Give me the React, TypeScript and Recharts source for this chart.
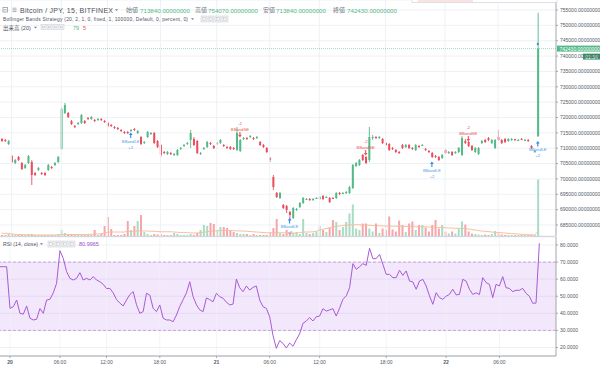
import React from 'react';
import {
  ComposedChart, Bar, Line, XAxis, YAxis, CartesianGrid,
  ReferenceLine, ReferenceArea, ReferenceDot,
} from 'recharts';

// ---------------- data ----------------
const SLOT_COUNT = 168; // 15-minute bar slots on the time axis (last few are empty)

const OPEN = [
  713000, 712670, 711370, 707460, 705180, 707140, 705180, 703560, 705180, 705510,
  701930, 702900, 701930, 701930, 702900, 703880, 704530, 705510, 709740, 721460,
  721460, 718860, 717230, 717880, 718210, 718860, 719840, 719510, 719180, 719180,
  719510, 718860, 718210, 717560, 716900, 716580, 715930, 715280, 715280, 715600,
  716250, 714950, 713650, 711700, 713650, 714630, 714950, 712350, 711040, 708770,
  708110, 708440, 707790, 707790, 709740, 710720, 711370, 712670, 713000, 712350,
  708110, 709740, 710390, 711700, 710720, 711370, 711700, 711040, 710390, 710390,
  710070, 709420, 709090, 713000, 713320, 713650, 713320, 713320, 712020, 711040,
  710070, 706810, 700630, 695420, 693790, 691510, 691180, 689230, 687280, 689880,
  690860, 692160, 693300, 693460, 693140, 693460, 693460, 694440, 693790, 693790,
  693790, 693790, 695420, 695090, 695420, 695420, 697040, 704210, 704530, 707790,
  707140, 706160, 713320, 713650, 713320, 713000, 711700, 711370, 710070, 709420,
  708770, 711040, 710390, 711040, 710070, 709420, 710720, 710720, 709740, 709090,
  708440, 707460, 707140, 706810, 709420, 708440, 708770, 708440, 708770, 707790,
  712350, 712020, 710720, 708770, 708110, 711700, 712670, 713320, 711700, 710070,
  713650, 712670, 713000, 712350, 712670, 713000, 712350, 713000, 712350, 712670,
  710720, 708770, 713840,
];
const HIGH = [
  713320, 713000, 712670, 707790, 706490, 707460, 705510, 704860, 707790, 706160,
  702250, 703880, 702250, 702250, 704860, 704210, 705510, 707460, 723420, 724720,
  721790, 719180, 717560, 718530, 721140, 719180, 720160, 720490, 719510, 719840,
  719840, 719180, 718530, 717880, 717230, 716900, 716250, 715600, 715600, 716250,
  716580, 715930, 713970, 712350, 715600, 715280, 715280, 712670, 711370, 709090,
  709090, 708770, 708440, 709740, 710390, 711370, 712020, 715930, 713650, 712670,
  708770, 710390, 712350, 712020, 711040, 712020, 713000, 711370, 710720, 710720,
  710390, 716900, 713000, 713650, 713650, 714300, 713650, 713970, 712350, 711370,
  710390, 707140, 701280, 695740, 695740, 691830, 691510, 689560, 690860, 690530,
  692490, 694110, 693790, 693790, 693790, 694110, 694440, 694760, 694440, 694110,
  694110, 695740, 695740, 695740, 696070, 697690, 704860, 705510, 706490, 708110,
  707460, 716900, 714300, 713970, 713970, 713320, 712020, 711700, 710390, 709740,
  709090, 711370, 711370, 711370, 710390, 711370, 711040, 711370, 710070, 709420,
  708770, 707790, 707460, 708110, 709740, 709090, 709090, 709090, 710390, 713970,
  713000, 712350, 711040, 710390, 710390, 712670, 713000, 713650, 713000, 713000,
  715930, 713000, 713320, 713320, 713320, 713000, 713000, 713320, 713000, 713000,
  711040, 709420, 754070,
];
const LOW = [
  712020, 712020, 711040, 705180, 704860, 705830, 702900, 703230, 704860, 698020,
  700950, 702580, 701280, 700950, 702580, 703230, 704210, 705180, 709420, 721140,
  719840, 717560, 716580, 717560, 717880, 717880, 719180, 719180, 718530, 718860,
  718860, 718210, 716900, 716900, 716250, 715930, 715280, 714630, 714630, 715280,
  715600, 714630, 711040, 711370, 713320, 714300, 711370, 710070, 707140, 708110,
  707790, 707790, 707460, 707460, 709420, 710390, 711040, 710070, 710720, 708110,
  707790, 709420, 710070, 711040, 709740, 711040, 711370, 710390, 709740, 709420,
  709420, 709090, 708770, 712670, 712670, 713320, 712670, 713000, 710720, 710070,
  708440, 705510, 696390, 693790, 693460, 690210, 688900, 686630, 686960, 689560,
  690530, 691830, 693140, 692810, 692810, 693460, 693140, 693140, 693790, 692160,
  693460, 693460, 694760, 695090, 695090, 695090, 696720, 703880, 704210, 705830,
  704860, 705510, 712670, 713000, 713000, 711370, 710720, 709090, 709420, 708440,
  708110, 709740, 710070, 709740, 709420, 709090, 710070, 710720, 709090, 708440,
  706810, 706810, 705830, 706490, 708110, 708110, 707460, 708110, 708440, 707460,
  711370, 710390, 709090, 708440, 707790, 711370, 711700, 712350, 711370, 709740,
  712350, 711370, 711700, 712020, 712350, 712350, 712350, 712670, 712350, 712020,
  709740, 708440, 713840,
];
const CLOSE = [
  712350, 712350, 712350, 705510, 706160, 706160, 703230, 704530, 707460, 701280,
  701280, 703560, 701600, 701280, 704530, 703560, 705180, 707140, 722770, 724070,
  720160, 717880, 716900, 718210, 720810, 718210, 719510, 720160, 718860, 719510,
  719180, 718530, 717230, 717230, 716580, 716250, 715600, 714950, 714950, 715930,
  715930, 715600, 711370, 712020, 715280, 714950, 711700, 710390, 707790, 708440,
  708770, 708110, 708110, 709420, 710070, 711040, 711700, 714950, 711040, 708440,
  708440, 710070, 712020, 711370, 710070, 711700, 712670, 710720, 710070, 709740,
  709740, 714950, 712670, 713320, 713000, 713970, 713000, 713650, 711040, 710390,
  708770, 706160, 697370, 694110, 695420, 690530, 689880, 688250, 690530, 690210,
  692160, 693790, 693460, 693140, 693460, 693790, 694110, 693460, 694110, 692490,
  693460, 695420, 695090, 695420, 695740, 697370, 704530, 705180, 706160, 706160,
  705180, 713650, 713650, 713320, 713650, 711700, 711040, 709420, 709740, 708770,
  708440, 710070, 711040, 710070, 709740, 711040, 710390, 711040, 709420, 708770,
  707140, 707140, 706160, 707790, 708440, 708770, 707790, 708770, 710070, 713320,
  711700, 710720, 709420, 710070, 710070, 712350, 712020, 712670, 712670, 712670,
  712670, 711700, 712020, 713000, 713000, 712670, 712670, 712670, 712670, 712350,
  710070, 709090, 742430,
];
const VOLUME = [
  0.2, 0.2, 0.4, 0.4, 0.2, 0.2, 0.2, 0.2, 0.4, 0.4,
  0.2, 0.2, 0.2, 0.2, 0.2, 0.2, 0.2, 0.4, 1.2, 0.6,
  0.2, 0.4, 0.2, 0.2, 0.2, 0.2, 0.2, 0.2, 1.2, 0.2,
  0.4, 2.0, 3.8, 1.4, 0.2, 0.2, 0.2, 0.4, 3.0, 1.2,
  2.0, 3.0, 4.2, 0.8, 0.4, 0.2, 0.4, 0.3, 0.4, 0.2,
  0.2, 0.2, 0.6, 0.4, 0.2, 0.2, 0.2, 0.4, 0.2, 0.6,
  1.2, 2.2, 2.0, 2.6, 2.4, 1.2, 1.8, 1.8, 1.6, 1.0,
  0.8, 0.6, 0.4, 0.4, 0.4, 0.2, 0.4, 0.2, 0.2, 0.2,
  0.2, 0.8, 1.6, 3.4, 0.6, 0.4, 1.2, 0.8, 0.6, 0.8,
  0.4, 3.4, 0.6, 0.4, 0.6, 0.8, 2.0, 1.2, 0.8, 1.6,
  3.2, 2.8, 1.2, 1.8, 2.8, 4.5, 6.3, 1.5, 1.2, 2.5,
  2.5, 1.5, 0.9, 2.5, 0.6, 1.5, 1.2, 3.9, 1.3, 0.9,
  3.1, 2.2, 0.8, 2.5, 2.9, 1.2, 2.2, 2.2, 1.7, 0.9,
  2.2, 3.2, 1.5, 2.2, 0.9, 0.5, 0.9, 0.5, 1.5, 2.9,
  2.3, 0.9, 0.5, 0.4, 0.3, 0.2, 0.3, 0.2, 0.4, 1.0,
  0.5, 0.3, 0.2, 0.2, 0.2, 0.2, 0.2, 0.2, 0.2, 0.2,
  0.3, 0.2, 11.3,
];
const VOLUME_MA = [
  0.54, 0.54, 0.54, 0.4, 0.35, 0.3, 0.3, 0.25, 0.25, 0.22,
  0.2, 0.2, 0.2, 0.2, 0.2, 0.2, 0.2, 0.2, 0.25, 0.3,
  0.3, 0.3, 0.3, 0.3, 0.3, 0.3, 0.3, 0.35, 0.35, 0.4,
  0.45, 0.55, 0.75, 0.8, 0.8, 0.8, 0.8, 0.8, 0.9, 0.9,
  0.95, 1.0, 1.05, 1.0, 1.0, 0.95, 0.95, 0.9, 0.85, 0.85,
  0.85, 0.85, 0.8, 0.75, 0.7, 0.7, 0.65, 0.65, 0.6, 0.6,
  0.65, 0.75, 0.85, 0.95, 1.0, 1.05, 1.1, 1.1, 1.1, 1.1,
  1.05, 1.05, 1.0, 1.0, 0.95, 0.9, 0.85, 0.8, 0.75, 0.7,
  0.65, 0.65, 0.65, 0.7, 0.65, 0.65, 0.6, 0.6, 0.6, 0.6,
  0.65, 0.8, 0.8, 0.8, 0.85, 0.9, 1.2, 1.35, 1.5, 1.65,
  1.8, 1.9, 2.0, 2.1, 2.15, 2.2, 2.25, 2.25, 2.25, 2.2,
  2.2, 2.15, 2.1, 2.1, 2.05, 2.0, 2.0, 2.0, 1.95, 1.95,
  1.95, 1.9, 1.9, 1.9, 1.9, 1.85, 1.85, 1.85, 1.85, 1.8,
  1.75, 1.75, 1.7, 1.7, 1.65, 1.6, 1.6, 1.55, 1.55, 1.55,
  1.5, 1.4, 1.3, 1.2, 1.1, 1.0, 0.95, 0.9, 0.8, 0.75,
  0.7, 0.65, 0.6, 0.55, 0.5, 0.45, 0.4, 0.35, 0.3, 0.25,
  0.2, 0.2, 0.85,
];
const RSI = [
  67.3, 67.3, 67.3, 42.9, 43.9, 47.8, 40, 39.5, 44.3, 37.1,
  36.1, 36.5, 42.8, 40, 47.8, 48.2, 52, 57.6, 76.7, 72.2,
  64.4, 60.5, 59.5, 60.5, 63.8, 59.5, 60.5, 59.5, 61.5, 59.5,
  58.5, 57, 54.5, 54.6, 52, 48, 46, 44.3, 47.8, 51,
  52.7, 45, 40, 41, 51.7, 50.7, 42.9, 41, 44.9, 37.1,
  36.1, 36.1, 35.1, 39, 44, 48, 52, 58.5, 49.8, 45,
  42, 41, 49, 48, 46.8, 51.7, 49.8, 48.8, 46.5, 44.9,
  45.4, 60.1, 55, 52.7, 56, 53.6, 55.2, 56, 47.8, 43.9,
  42.9, 38, 27, 19.5, 24, 22.4, 19.7, 22.6, 20.7, 24.5,
  28, 34.1, 35.5, 37.5, 35.5, 38, 38.4, 42.7, 41.3, 42,
  42.7, 38.4, 43, 48.2, 50.2, 55, 69.1, 65.8, 67.3, 69.1,
  68.1, 78.1, 72, 72, 74.5, 68.7, 62.8, 62.8, 60.9, 60.9,
  65.2, 62.2, 64.8, 58.9, 58.4, 54.1, 58.9, 59.9, 56, 50.2,
  45.3, 52.1, 49.2, 48.2, 50, 51.1, 54.1, 50.8, 51.1, 59.9,
  58.9, 54.1, 51.1, 52, 51, 60.9, 58, 57, 49.2, 57,
  56, 61.5, 55, 54.6, 52.7, 53.5, 53.5, 54.6, 51.7, 50,
  45.9, 46, 80.9965,
];

// strategy trade markers (bar index, kind, price at arrow tip)
const MARKER_INDEX = [39, 72, 87, 110, 130, 141, 162];
const MARKER_KIND = ['LE', 'SE', 'LE', 'SE', 'LE', 'SE', 'LE'];
const MARKER_PRICE = [715110, 713500, 687280, 707630, 705670, 712180, 712350];
const POSITION_DOT = { index: 162, price: 743930 };

// axes
const PRICE_TICKS = [685000, 690000, 695000, 700000, 705000, 710000, 715000, 720000, 725000, 730000, 735000, 740000, 745000, 750000, 755000];
const PRICE_DOMAIN = [681418, 758256];
const RSI_TICKS = [20, 30, 40, 50, 60, 70, 80];
const RSI_DOMAIN = [15, 84.7];
const VOLUME_DOMAIN = [0, 47.2];
const TIME_TICK_INDEX = [3, 18, 32, 48, 65, 81, 96, 116, 134, 150];
const TIME_TICK_LABELS = ['20', '06:00', '12:00', '18:00', '21', '06:00', '12:00', '18:00', '22', '06:00'];

const LAST = OPEN.length - 1;
const rows = Array.from({ length: SLOT_COUNT }, (_, i) =>
  i <= LAST
    ? { i, o: OPEN[i], h: HIGH[i], l: LOW[i], c: CLOSE[i], v: VOLUME[i], vma: VOLUME_MA[i], rsi: RSI[i] }
    : { i }
);

// ---------------- styles ----------------
const FONT = '"Liberation Sans", Arial, "Noto Sans CJK JP", sans-serif';
const GREEN = '#53b987';
const GREEN_DARK = '#3f9e70';
const RED = '#eb4d5c';
const VOL_GREEN = '#a9dcc3';
const VOL_RED = '#f5a6ad';
const GRID = '#eef1f6';
const AXIS_LINE = '#a3a6af';
const AXIS_TEXT = '#4f5966';
const TITLE = '#4c525e';
const MUTED = '#787b86';
const BLUE = '#2a8cf0';
const BLUE_TEXT = '#4a9cf0';
const SE_RED = '#ef5350';
const RSI_COLOR = '#a95ad6';

const candleRange = (d: any) => (d.o == null ? null : [d.l, d.h]);

const renderCandle = (p: any) => {
  const d = p.payload;
  if (!d || d.o == null) return <g />;
  const { x, y, width, height } = p;
  const span = d.h - d.l;
  const toY = (v: number) => (span === 0 ? y : y + ((d.h - v) / span) * height);
  const yo = toY(d.o);
  const yc = toY(d.c);
  const up = d.c >= d.o;
  const color = up ? GREEN : RED;
  const top = Math.min(yo, yc);
  const bh = Math.max(Math.abs(yc - yo), 1);
  const cx = x + width / 2;
  return (
    <g>
      <line x1={cx} x2={cx} y1={y} y2={y + height} stroke={color} strokeWidth={0.9} />
      <rect x={x} y={top} width={width} height={bh} fill={color} />
    </g>
  );
};

const renderVolume = (p: any) => {
  const d = p.payload;
  if (!d || d.v == null || !(p.height > 0)) return <g />;
  const up = d.c >= d.o;
  return <rect x={p.x} y={p.y} width={p.width} height={p.height} fill={up ? VOL_GREEN : VOL_RED} />;
};

const renderMarker = (kind: string) => (p: any) => {
  const { cx, cy } = p;
  if (cx == null || cy == null) return <g />;
  if (kind === 'LE') {
    return (
      <g fontFamily={FONT}>
        <path
          d={`M${cx},${cy} L${cx + 1.9},${cy + 2.6} L${cx + 0.55},${cy + 2.6} L${cx + 0.55},${cy + 5.5} L${cx - 0.55},${cy + 5.5} L${cx - 0.55},${cy + 2.6} L${cx - 1.9},${cy + 2.6} Z`}
          fill={BLUE}
        />
        <text x={cx} y={cy + 9} fontSize={4.2} fill={BLUE_TEXT} textAnchor="middle" dominantBaseline="central">BBandLE</text>
        <text x={cx} y={cy + 15} fontSize={4.2} fill={BLUE_TEXT} textAnchor="middle" dominantBaseline="central">+2</text>
      </g>
    );
  }
  return (
    <g fontFamily={FONT}>
      <path
        d={`M${cx},${cy} L${cx + 1.9},${cy - 2.6} L${cx + 0.55},${cy - 2.6} L${cx + 0.55},${cy - 5.5} L${cx - 0.55},${cy - 5.5} L${cx - 0.55},${cy - 2.6} L${cx - 1.9},${cy - 2.6} Z`}
        fill={SE_RED}
      />
      <text x={cx} y={cy - 8} fontSize={4.2} fill={SE_RED} textAnchor="middle" dominantBaseline="central">BBandSE</text>
      <text x={cx} y={cy - 14} fontSize={4.2} fill={SE_RED} textAnchor="middle" dominantBaseline="central">-2</text>
    </g>
  );
};

const renderPositionDot = (p: any) => {
  const { cx, cy } = p;
  if (cx == null) return <g />;
  return <path d={`M${cx},${cy - 1.6} L${cx + 1.3},${cy} L${cx},${cy + 1.6} L${cx - 1.3},${cy} Z`} fill={BLUE} />;
};

const renderLastPrice = (p: any) => {
  const vb = p.viewBox || {};
  const x = vb.x + vb.width;
  const y = vb.y;
  return (
    <g fontFamily={FONT}>
      <rect x={x + 1} y={y - 3} width={44} height={6} fill={GREEN} />
      <text x={x + 3.5} y={y + 0.2} fontSize={5} fill="#fff" dominantBaseline="central">{`${CLOSE[LAST]}.00000000`}</text>
      <rect x={x + 27} y={y + 5} width={17} height={6} fill={GREEN_DARK} />
      <text x={x + 35.5} y={y + 8.2} fontSize={5} fill="#fff" textAnchor="middle" dominantBaseline="central">01:34</text>
    </g>
  );
};

const renderTimeTick = (p: any) => {
  const idx = TIME_TICK_INDEX.indexOf(p.payload.value);
  const label = idx >= 0 ? TIME_TICK_LABELS[idx] : '';
  const isDay = label.indexOf(':') < 0;
  return (
    <text x={p.x} y={p.y} dy="0.71em" textAnchor="middle" fontSize={5} fontFamily={FONT} fill={AXIS_TEXT} fontWeight={isDay ? 'bold' : 'normal'}>
      {label}
    </text>
  );
};

const IconBoxes = ({ x, y, gap }: { x: number; y: number; gap: number }) => (
  <g>
    {[0, 1, 2, 3].map((k) => (
      <g key={k}>
        <rect x={x + k * gap} y={y} width={gap - 1} height={gap - 1} fill="#f3f4f6" stroke="#c6c9cf" strokeWidth={0.5} />
        <rect x={x + k * gap + 1.6} y={y + 1.6} width={gap - 4.2} height={gap - 4.2} fill="none" stroke="#b5b8bf" strokeWidth={0.4} />
      </g>
    ))}
  </g>
);

const Caret = ({ x, y }: { x: number; y: number }) => (
  <path d={`M${x},${y} L${x + 3},${y} L${x + 1.5},${y + 1.8} Z`} fill={MUTED} />
);

// header layout (text positions)
const OHLC_LABELS = ['始値', '高値', '安値', '終値'];
const OHLC_VALUES = [OPEN[LAST], HIGH[LAST], LOW[LAST], CLOSE[LAST]];
const OHLC_LABEL_X = [126, 195, 263, 333];
const OHLC_VALUE_X = [140, 208, 276, 347];

export default function App() {
  return (
    <div style={{ position: 'absolute', left: 0, top: 0, width: 600, height: 368, background: '#ffffff', overflow: 'hidden' }}>
      {/* price + volume pane */}
      <div style={{ position: 'absolute', left: 0, top: 0 }}>
        <ComposedChart width={600} height={236} data={rows} margin={{ top: 0, right: 0, bottom: 0, left: 0 }}>
          <XAxis xAxisId="c" dataKey="i" type="category" hide />
          <XAxis xAxisId="v" dataKey="i" type="category" hide />
          <YAxis
            yAxisId="p"
            orientation="right"
            width={44}
            domain={PRICE_DOMAIN}
            ticks={PRICE_TICKS}
            interval={0}
            allowDataOverflow
            tickSize={2}
            tickMargin={2}
            tick={{ fontSize: 5, fill: AXIS_TEXT, fontFamily: FONT }}
            tickFormatter={(v: number) => `${v}.00000000`}
            axisLine={{ stroke: AXIS_LINE }}
            tickLine={{ stroke: AXIS_LINE }}
          />
          <YAxis yAxisId="vol" hide domain={VOLUME_DOMAIN} allowDataOverflow />
          <CartesianGrid xAxisId="c" yAxisId="p" vertical={false} stroke={GRID} />
          {TIME_TICK_INDEX.map((t) => (
            <ReferenceLine key={`pv${t}`} xAxisId="c" yAxisId="p" x={t} stroke={GRID} />
          ))}
          <ReferenceLine
            xAxisId="c"
            yAxisId="p"
            y={CLOSE[LAST]}
            stroke={GREEN}
            strokeOpacity={0.55}
            strokeDasharray="1 1"
            label={renderLastPrice}
          />
          <Bar xAxisId="v" yAxisId="vol" dataKey="v" barSize={2} shape={renderVolume} isAnimationActive={false} />
          <Line xAxisId="v" yAxisId="vol" dataKey="vma" stroke="#f7bf9c" strokeWidth={1} dot={false} activeDot={false} isAnimationActive={false} />
          <Bar xAxisId="c" yAxisId="p" dataKey={candleRange} barSize={2} shape={renderCandle} isAnimationActive={false} />
          {MARKER_INDEX.map((idx, k) => (
            <ReferenceDot
              key={`m${k}`}
              xAxisId="c"
              yAxisId="p"
              x={idx}
              y={MARKER_PRICE[k]}
              r={2}
              shape={renderMarker(MARKER_KIND[k])}
            />
          ))}
          <ReferenceDot xAxisId="c" yAxisId="p" x={POSITION_DOT.index} y={POSITION_DOT.price} r={1.5} shape={renderPositionDot} />
        </ComposedChart>
      </div>

      {/* RSI pane + time axis */}
      <div style={{ position: 'absolute', left: 0, top: 236 }}>
        <ComposedChart width={600} height={132} data={rows} margin={{ top: 1, right: 0, bottom: 0, left: 0 }}>
          <CartesianGrid vertical={false} stroke={GRID} />
          <XAxis
            dataKey="i"
            type="category"
            ticks={TIME_TICK_INDEX}
            interval={0}
            height={12}
            tickSize={2}
            tickMargin={2}
            tick={renderTimeTick}
            axisLine={{ stroke: AXIS_LINE }}
            tickLine={{ stroke: AXIS_LINE }}
          />
          <YAxis
            orientation="right"
            width={44}
            domain={RSI_DOMAIN}
            ticks={RSI_TICKS}
            interval={0}
            allowDataOverflow
            tickSize={2}
            tickMargin={2}
            tick={{ fontSize: 5, fill: AXIS_TEXT, fontFamily: FONT }}
            tickFormatter={(v: number) => v.toFixed(4)}
            axisLine={{ stroke: AXIS_LINE }}
            tickLine={{ stroke: AXIS_LINE }}
          />
          <ReferenceArea y1={30} y2={70} fill="#8e24e0" fillOpacity={0.11} stroke="none" />
          {TIME_TICK_INDEX.map((t) => (
            <ReferenceLine key={`rv${t}`} x={t} stroke={GRID} strokeOpacity={0.8} />
          ))}
          <ReferenceLine y={70} stroke="#c7a3dd" strokeDasharray="3 2" />
          <ReferenceLine y={30} stroke="#c7a3dd" strokeDasharray="3 2" />
          <Line dataKey="rsi" stroke={RSI_COLOR} strokeWidth={1} dot={false} activeDot={false} isAnimationActive={false} />
        </ComposedChart>
      </div>

      {/* legends / overlays */}
      <svg width={600} height={368} style={{ position: 'absolute', left: 0, top: 0, pointerEvents: 'none' }} fontFamily={FONT}>
        {/* cut-off popup at the top edge */}
        <rect x={412} y={-3} width={145} height={5.5} fill="#ffffff" stroke="#c9ccd2" strokeWidth={0.6} />
        <rect x={418} y={0} width={55} height={2} fill="#fbe3e3" />
        {/* pane separator */}
        <line x1={0} x2={556} y1={236.5} y2={236.5} stroke="#d3d6dc" strokeWidth={1} />

        {/* line 1: symbol + OHLC */}
        <rect x={3} y={7.6} width={4.4} height={4.4} fill="none" stroke={MUTED} strokeWidth={0.6} />
        <line x1={4} x2={6.4} y1={9.8} y2={9.8} stroke={MUTED} strokeWidth={0.6} />
        <line x1={12.5} x2={16.5} y1={8.2} y2={8.2} stroke={MUTED} strokeWidth={0.6} />
        <line x1={12.5} x2={16.5} y1={9.9} y2={9.9} stroke={MUTED} strokeWidth={0.6} />
        <line x1={12.5} x2={16.5} y1={11.6} y2={11.6} stroke={MUTED} strokeWidth={0.6} />
        <text x={20} y={10} fontSize={7} fill={TITLE} dominantBaseline="central" textLength={93} lengthAdjust="spacing">
          Bitcoin / JPY, 15, BITFINEX
        </text>
        <Caret x={115} y={9.2} />
        {OHLC_LABELS.map((lab, k) => (
          <g key={lab}>
            <text x={OHLC_LABEL_X[k]} y={10} fontSize={6} fill={MUTED} dominantBaseline="central">{lab}</text>
            <text x={OHLC_VALUE_X[k]} y={10} fontSize={6.2} fill={GREEN} dominantBaseline="central" textLength={50} lengthAdjust="spacing">
              {`${OHLC_VALUES[k]}.00000000`}
            </text>
          </g>
        ))}

        {/* line 2: strategy */}
        <text x={3} y={19} fontSize={4.9} fill={TITLE} dominantBaseline="central" textLength={185} lengthAdjust="spacing">
          Bollinger Bands Strategy (20, 2, 1, 0, fixed, 1, 100000, Default, 0, percent, 0)
        </text>
        <Caret x={191} y={18.3} />
        <IconBoxes x={201} y={16} gap={7} />

        {/* line 3: volume */}
        <text x={3} y={27.5} fontSize={5.5} fill={TITLE} dominantBaseline="central">出来高 (20)</text>
        <Caret x={34} y={26.8} />
        <IconBoxes x={41} y={24.5} gap={6} />
        <text x={73} y={27.5} fontSize={5.5} fill={GREEN} dominantBaseline="central">79</text>
        <text x={83} y={27.5} fontSize={5.5} fill={SE_RED} dominantBaseline="central">5</text>

        {/* RSI legend */}
        <text x={3} y={244} fontSize={5} fill={TITLE} dominantBaseline="central" textLength={35} lengthAdjust="spacing">RSI (14, close)</text>
        <Caret x={40} y={243.2} />
        <IconBoxes x={48} y={241} gap={7} />
        <text x={79} y={244} fontSize={5.5} fill="#9c4fc9" dominantBaseline="central">{RSI[LAST].toFixed(4)}</text>
      </svg>
    </div>
  );
}
